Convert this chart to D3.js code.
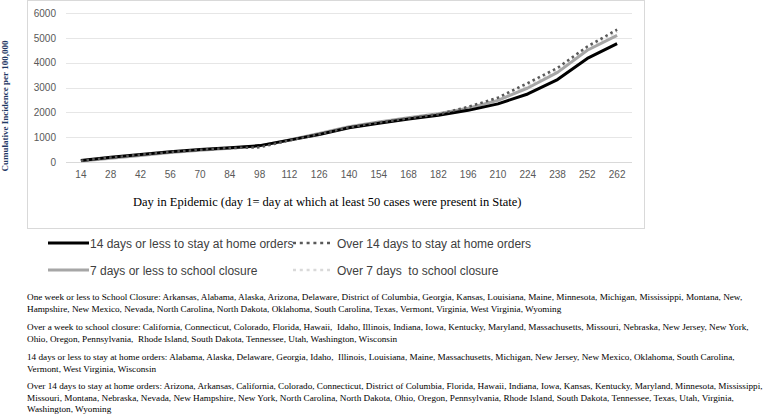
<!DOCTYPE html>
<html>
<head>
<meta charset="utf-8">
<script src="https://cdn.jsdelivr.net/npm/d3@7"></script>
<style>
  body { margin: 0; background: #fff; }
  svg { display: block; }
  text { white-space: pre; }
</style>
</head>
<body>
<svg width="775" height="420"></svg>
<script>
var days = [14, 28, 42, 56, 70, 84, 98, 112, 126, 140, 154, 168, 182, 196, 210, 224, 238, 252, 262];
var yTicks = [0, 1000, 2000, 3000, 4000, 5000, 6000];

// cumulative incidence per 100,000
var homeShort  = [60, 190, 300, 410, 500, 570, 660, 880, 1110, 1380, 1560, 1730, 1880, 2080, 2340, 2740, 3320, 4170, 4770];
var homeLong   = [50, 180, 290, 400, 490, 560, 590, 870, 1120, 1400, 1590, 1760, 1920, 2220, 2590, 3180, 3790, 4650, 5330];
var schoolShort = [40, 150, 260, 380, 470, 550, 650, 890, 1150, 1420, 1610, 1780, 1940, 2170, 2480, 2980, 3610, 4500, 5100];
var schoolLong  = [50, 170, 280, 390, 480, 560, 630, 880, 1140, 1410, 1600, 1770, 1930, 2200, 2540, 3100, 3700, 4600, 5250];

var seriesNames = ["14 days or less to stay at home orders", "Over 14 days to stay at home orders",
                   "7 days or less to school closure", "Over 7 days  to school closure"];

var notes = [
  ["One week or less to School Closure: Arkansas, Alabama, Alaska, Arizona, Delaware, District of Columbia, Georgia, Kansas, Louisiana, Maine, Minnesota, Michigan, Mississippi, Montana, New,",
   "Hampshire, New Mexico, Nevada, North Carolina, North Dakota, Oklahoma, South Carolina, Texas, Vermont, Virginia, West Virginia, Wyoming"],
  ["Over a week to school closure: California, Connecticut, Colorado, Florida, Hawaii,  Idaho, Illinois, Indiana, Iowa, Kentucky, Maryland, Massachusetts, Missouri, Nebraska, New Jersey, New York,",
   "Ohio, Oregon, Pennsylvania,  Rhode Island, South Dakota, Tennessee, Utah, Washington, Wisconsin"],
  ["14 days or less to stay at home orders: Alabama, Alaska, Delaware, Georgia, Idaho,  Illinois, Louisiana, Maine, Massachusetts, Michigan, New Jersey, New Mexico, Oklahoma, South Carolina,",
   "Vermont, West Virginia, Wisconsin"],
  ["Over 14 days to stay at home orders: Arizona, Arkansas, California, Colorado, Connecticut, District of Columbia, Florida, Hawaii, Indiana, Iowa, Kansas, Kentucky, Maryland, Minnesota, Mississippi,",
   "Missouri, Montana, Nebraska, Nevada, New Hampshire, New York, North Carolina, North Dakota, Ohio, Oregon, Pennsylvania, Rhode Island, South Dakota, Tennessee, Texas, Utah, Virginia,",
   "Washington, Wyoming"]
];

var svg = d3.select("svg");
var sans = "'Liberation Sans', Arial, sans-serif";
var serif = "'Liberation Serif', 'Times New Roman', serif";

var styles = [
  { data: homeShort,   color: "#000000", width: 3,   dash: null },
  { data: homeLong,    color: "#595959", width: 2.5, dash: "2.5,3.2" },
  { data: schoolShort, color: "#a6a6a6", width: 3,   dash: null },
  { data: schoolLong,  color: "#d9d9d9", width: 2.5, dash: "2.5,3.2" }
];

// chart frame
svg.append("rect")
    .attr("x", 27.5).attr("y", 0.5)
    .attr("width", 617).attr("height", 228)
    .attr("fill", "none")
    .attr("stroke", "#d9d9d9");

var x = d3.scaleBand().domain(days).range([66, 632]);
var y = d3.scaleLinear().domain([0, 6000]).range([162, 13]);

// grid lines
svg.append("g")
  .selectAll("line")
  .data(yTicks)
  .enter().append("line")
    .attr("x1", 66).attr("x2", 632)
    .attr("y1", function(d) { return Math.round(y(d)) + 0.5; })
    .attr("y2", function(d) { return Math.round(y(d)) + 0.5; })
    .attr("stroke", function(d) { return d == 0 ? "#d9d9d9" : "#e6e6e6"; })
    .attr("stroke-width", 1);

// y axis labels
var yAxis = svg.append("g")
    .attr("transform", "translate(62,0)")
    .call(d3.axisLeft(y).tickValues(yTicks).tickFormat(d3.format("d")).tickSize(0).tickPadding(6));
yAxis.select(".domain").remove();
yAxis.selectAll("text")
    .attr("font-family", sans).attr("font-size", "10px").attr("fill", "#595959");

// x axis labels
var xAxis = svg.append("g")
    .attr("transform", "translate(0,162)")
    .call(d3.axisBottom(x).tickSize(0).tickPadding(9));
xAxis.select(".domain").remove();
xAxis.selectAll("text")
    .attr("font-family", sans).attr("font-size", "10px").attr("fill", "#595959");

var line = d3.line()
    .x(function(d, i) { return x(days[i]) + x.bandwidth() / 2; })
    .y(function(d) { return y(d); });

// draw back to front: light dotted, gray, black, dark dotted
[3, 2, 0, 1].forEach(function(k) {
  var s = styles[k];
  svg.append("path")
      .datum(s.data)
      .attr("d", line)
      .attr("fill", "none")
      .attr("stroke", s.color)
      .attr("stroke-width", s.width)
      .attr("stroke-dasharray", s.dash)
      .attr("stroke-linejoin", "round");
});

// axis titles
svg.append("text")
    .attr("x", 133).attr("y", 206)
    .attr("font-family", serif).attr("font-size", "12.5px").attr("fill", "#000")
    .text("Day in Epidemic (day 1= day at which at least 50 cases were present in State)");

svg.append("text")
    .attr("transform", "translate(8,106) rotate(-90)")
    .attr("text-anchor", "middle")
    .attr("font-family", serif).attr("font-size", "9px").attr("font-weight", "bold")
    .attr("fill", "#1f3864")
    .text("Cumulative Incidence per 100,000");

// legend
var legendPos = [[48, 243], [293, 243], [48, 270], [293, 270]];
var legend = svg.append("g")
  .selectAll("g")
  .data(styles)
  .enter().append("g")
    .attr("transform", function(d, i) { return "translate(" + legendPos[i][0] + "," + legendPos[i][1] + ")"; });

legend.append("line")
    .attr("x1", 0).attr("x2", function(d, i) { return i % 2 ? 39 : 41; })
    .attr("y1", 0).attr("y2", 0)
    .attr("stroke", function(d) { return d.color; })
    .attr("stroke-width", function(d) { return d.width; })
    .attr("stroke-dasharray", function(d) { return d.dash ? "3,3.8" : null; });

legend.append("text")
    .attr("x", function(d, i) { return i % 2 ? 44 : 42; })
    .attr("y", 4.5)
    .attr("font-family", sans).attr("font-size", "12px").attr("fill", "#404040")
    .text(function(d, i) { return seriesNames[i]; });

// state notes
var noteTop = [297, 327, 357, 386];
notes.forEach(function(block, b) {
  block.forEach(function(txt, j) {
    svg.append("text")
        .attr("x", 27).attr("y", noteTop[b] + j * 11.6 + 3)
        .attr("font-family", serif).attr("font-size", "9.2px").attr("fill", "#000")
        .text(txt);
  });
});
</script>
</body>
</html>
